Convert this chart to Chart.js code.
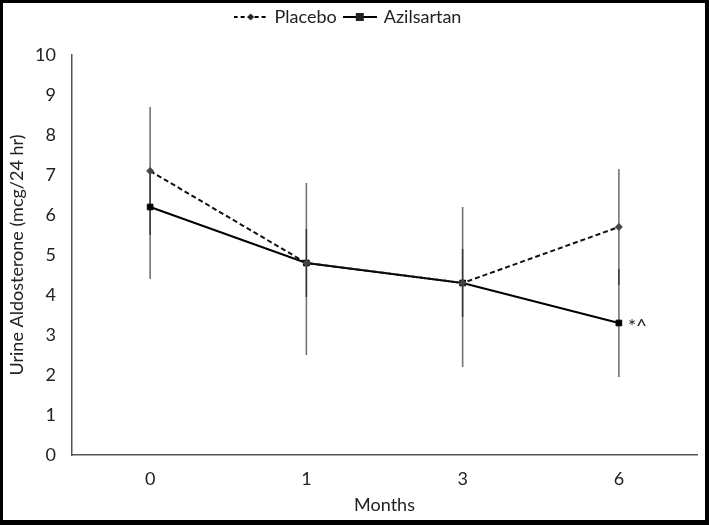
<!DOCTYPE html>
<html>
<head>
<meta charset="utf-8">
<script src="https://cdn.jsdelivr.net/npm/chart.js@4"></script>
<style>
html,body{margin:0;padding:0;background:#fff;}
#wrap{position:relative;width:709px;height:525px;}
#c{position:absolute;left:0;top:0;}
#frame{position:absolute;left:0;top:0;width:709px;height:525px;box-sizing:border-box;border-style:solid;border-color:#000;border-width:3px 4px 5px 3px;pointer-events:none;}
</style>
</head>
<body>
<div id="wrap"><canvas id="c" width="709" height="525"></canvas><div id="frame"></div></div>
<script>
const categories = ['0', '1', '3', '6'];
const placebo = [7.1, 4.8, 4.3, 5.7];
const azilsartan = [6.2, 4.8, 4.3, 3.3];
const placeboErrUp = [1.6, 2.0, 1.9, 1.45];
const placeboErrDown = [1.6, 2.3, 2.1, 1.45];
const azilErrUp = [0.9, 0.85, 0.85, 1.35];
const azilErrDown = [1.8, 0.85, 0.85, 1.35];
const yTicks = [0, 1, 2, 3, 4, 5, 6, 7, 8, 9, 10];
const annotationText = '*^';

const FONT = 'Lato, "Open Sans", sans-serif';

function legendSymbol(dashed, square) {
  const cv = document.createElement('canvas');
  cv.width = 34; cv.height = 10;
  const g = cv.getContext('2d');
  g.strokeStyle = '#000';
  g.lineWidth = 2;
  if (dashed) g.setLineDash([4, 3]);
  g.beginPath(); g.moveTo(0, 5); g.lineTo(34, 5); g.stroke();
  g.setLineDash([]);
  g.fillStyle = '#222';
  if (square) { g.fillRect(13, 1, 8, 8); }
  else { g.beginPath(); g.moveTo(17, 1.5); g.lineTo(20.5, 5); g.lineTo(17, 8.5); g.lineTo(13.5, 5); g.closePath(); g.fill(); }
  return cv;
}
const symPlacebo = legendSymbol(true, false);
const symAzil = legendSymbol(false, true);

const errorBars = {
  id: 'errorBars',
  beforeDatasetsDraw(chart) {
    const {ctx, scales: {x, y}} = chart;
    const sets = [[placebo, placeboErrUp, placeboErrDown], [azilsartan, azilErrUp, azilErrDown]];
    ctx.save();
    ctx.strokeStyle = 'rgba(0,0,0,0.55)';
    ctx.lineWidth = 1.6;
    sets.forEach(([vals, up, down]) => {
      vals.forEach((v, i) => {
        const px = x.getPixelForValue(i);
        ctx.beginPath();
        ctx.moveTo(px, y.getPixelForValue(v + up[i]));
        ctx.lineTo(px, y.getPixelForValue(v - down[i]));
        ctx.stroke();
      });
    });
    ctx.restore();
  }
};

const annot = {
  id: 'annot',
  afterDatasetsDraw(chart) {
    const meta = chart.getDatasetMeta(1);
    const pt = meta.data[meta.data.length - 1];
    const {ctx} = chart;
    ctx.save();
    ctx.fillStyle = '#222';
    ctx.font = '19px ' + FONT;
    ctx.textBaseline = 'middle';
    ctx.textAlign = 'left';
    ctx.fillText(annotationText, pt.x + 9, pt.y + 4);
    ctx.restore();
  }
};

const legendHeight = {
  id: 'legendHeight',
  afterInit(chart) {
    const lg = chart.legend;
    if (lg && !lg._patched) {
      const orig = lg.fit;
      lg.fit = function () { orig.call(this); this.height = 55; };
      lg._patched = true;
    }
  }
};

new Chart(document.getElementById('c'), {
  type: 'line',
  data: {
    labels: categories,
    datasets: [
      {
        label: 'Placebo', data: placebo,
        borderColor: '#111', borderWidth: 2, borderDash: [5, 3],
        pointStyle: 'rectRot', pointRadius: 3.5, pointBackgroundColor: '#444', pointBorderColor: '#444', pointBorderWidth: 1,
        tension: 0, fill: false
      },
      {
        label: 'Azilsartan', data: azilsartan,
        borderColor: '#000', borderWidth: 2,
        pointStyle: 'rect', pointRadius: 4, pointBackgroundColor: '#000', pointBorderColor: '#000', pointBorderWidth: 1,
        tension: 0, fill: false
      }
    ]
  },
  options: {
    responsive: false,
    animation: false,
    layout: {padding: {left: 0, right: 12, top: 0, bottom: 0}},
    plugins: {
      tooltip: {enabled: false},
      legend: {
        position: 'top',
        labels: {
          font: {family: FONT, size: 18},
          color: '#222',
          usePointStyle: true,
          pointStyleWidth: 30,
          padding: 8,
          generateLabels() {
            return [
              {text: 'Placebo', pointStyle: symPlacebo, fillStyle: '#000', strokeStyle: '#000', lineWidth: 0, datasetIndex: 0, fontColor: '#222'},
              {text: 'Azilsartan', pointStyle: symAzil, fillStyle: '#000', strokeStyle: '#000', lineWidth: 0, datasetIndex: 1, fontColor: '#222'}
            ];
          }
        }
      }
    },
    scales: {
      x: {
        type: 'category',
        offset: true,
        grid: {display: false, drawTicks: false},
        border: {display: true, color: '#555', width: 1.5},
        ticks: {font: {family: FONT, size: 18}, color: '#222', padding: 13},
        title: {display: true, text: 'Months', font: {family: FONT, size: 18}, color: '#222', padding: {top: 0, bottom: 9}},
        afterFit(s) { s.height = 70; }
      },
      y: {
        min: 0, max: 10,
        afterBuildTicks(s) { s.ticks = yTicks.map(v => ({value: v})); },
        grid: {display: false, drawTicks: false},
        border: {display: true, color: '#555', width: 1.5},
        ticks: {font: {family: FONT, size: 18}, color: '#222', padding: 16},
        title: {display: true, text: 'Urine Aldosterone (mcg/24 hr)', font: {family: FONT, size: 18}, color: '#222', padding: {top: 6, bottom: 0}},
        afterFit(s) { s.width = 72; }
      }
    }
  },
  plugins: [errorBars, annot, legendHeight]
});
</script>
</body>
</html>
